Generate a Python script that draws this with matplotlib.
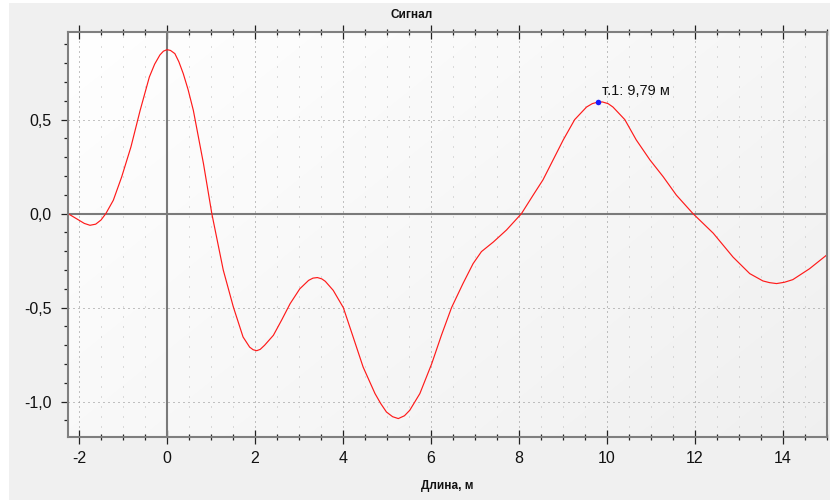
import numpy as np
import matplotlib
matplotlib.use("Agg")
import matplotlib.pyplot as plt
from matplotlib.patches import Rectangle
from matplotlib.ticker import MultipleLocator, FixedLocator

# ---- data ----
x_m = [-2.25, -2.00, -1.88, -1.75, -1.62, -1.50, -1.39, -1.22, -1.03, -0.82,
       -0.61, -0.40, -0.28, -0.16, -0.08, 0.00, 0.08, 0.18, 0.27, 0.37,
       0.48, 0.60, 0.83, 1.02, 1.28, 1.51, 1.73, 1.88, 1.96, 2.04,
       2.12, 2.22, 2.42, 2.61, 2.80, 3.02, 3.22, 3.32, 3.42, 3.52,
       3.60, 3.78, 4.01, 4.23, 4.46, 4.73, 4.86, 4.99, 5.13, 5.26,
       5.40, 5.52, 5.75, 6.02, 6.24, 6.47, 6.73, 6.96, 7.15, 7.42,
       7.72, 8.06, 8.33, 8.55, 8.78, 9.01, 9.27, 9.54, 9.67, 9.79,
       9.90, 10.03, 10.14, 10.41, 10.67, 10.98, 11.28, 11.58, 11.96, 12.42,
       12.87, 13.25, 13.55, 13.70, 13.86, 14.04, 14.23, 14.61, 14.99]
signal = [0.000, -0.035, -0.052, -0.062, -0.056, -0.034, 0.000, 0.071, 0.195, 0.354,
          0.549, 0.727, 0.795, 0.844, 0.864, 0.872, 0.868, 0.851, 0.808, 0.745,
          0.660, 0.549, 0.266, 0.000, -0.300, -0.497, -0.656, -0.710, -0.724, -0.729,
          -0.722, -0.700, -0.647, -0.565, -0.479, -0.400, -0.355, -0.343, -0.340, -0.347,
          -0.360, -0.408, -0.500, -0.654, -0.816, -0.957, -1.010, -1.055, -1.080, -1.090,
          -1.075, -1.046, -0.957, -0.798, -0.647, -0.500, -0.372, -0.266, -0.202, -0.151,
          -0.087, 0.000, 0.100, 0.180, 0.286, 0.392, 0.500, 0.567, 0.585, 0.593,
          0.594, 0.585, 0.567, 0.500, 0.392, 0.286, 0.197, 0.099, 0.000, -0.104,
          -0.231, -0.319, -0.358, -0.367, -0.372, -0.365, -0.351, -0.293, -0.222]

marker_x = 9.79
marker_y = 0.593
marker_label = "т.1: 9,79 м"

x_ticks = [-2, 0, 2, 4, 6, 8, 10, 12, 14]
x_ticklabels = ["-2", "0", "2", "4", "6", "8", "10", "12", "14"]
y_ticks = [-1.0, -0.5, 0.0, 0.5]
y_ticklabels = ["-1,0", "-0,5", "0,0", "0,5"]

title = "Сигнал"
xlabel = "Длина, м"

# ---- figure ----
W, H = 835, 500
fig = plt.figure(figsize=(W / 100, H / 100), dpi=100)
fig.patch.set_facecolor("white")
fig.patches.append(Rectangle((9 / W, 0), (830 - 9) / W, (H - 3) / H,
                             transform=fig.transFigure, facecolor="#f0f0f0",
                             edgecolor="none", zorder=-10))

L, R, T, B = 68, 826.7, 32, 437
ax = fig.add_axes([L / W, 1 - B / H, (R - L) / W, (B - T) / H])
ax.set_facecolor("white")

# soft background gradient
gx, gy = np.meshgrid(np.linspace(0, 1, 200), np.linspace(0, 1, 200))
g = 1.0 - 0.06 * (0.6 * gx + 0.4 * gy)
ax.imshow(np.dstack([g, g, g]), extent=[0, 1, 0, 1], transform=ax.transAxes,
          aspect="auto", zorder=0, interpolation="bilinear")

ax.set_xlim(-2.25, 15.0)
ax.set_ylim(-1.188, 0.966)

# grids
ax.xaxis.set_major_locator(FixedLocator(x_ticks))
ax.xaxis.set_minor_locator(MultipleLocator(0.5))
ax.yaxis.set_major_locator(FixedLocator(y_ticks))
ax.yaxis.set_minor_locator(MultipleLocator(0.1))
ax.set_xticklabels(x_ticklabels)
ax.set_yticklabels(y_ticklabels)

ax.grid(True, which="major", color="#8a8a8a", linewidth=0.72,
        linestyle=(0, (1, 4)), zorder=1)
ax.xaxis.grid(True, which="minor", color="#bdbdbd", linewidth=0.72,
              linestyle=(0, (1, 9)), zorder=1)

# zero axes lines
ax.axhline(0, color="#7a7a7a", linewidth=1.5, zorder=2)
ax.axvline(0, color="#7a7a7a", linewidth=1.5, zorder=2)

# curve
ax.plot(x_m, signal, color="#ff1a1a", linewidth=0.85, zorder=3,
        solid_joinstyle="round")
ax.plot([marker_x], [marker_y], "o", color="#1a1aff", markersize=4, zorder=4,
        markeredgewidth=0)
ax.annotate(marker_label, (marker_x, marker_y), xytext=(3, 8),
            textcoords="offset points", ha="left", va="center",
            fontsize=10.5, family="Liberation Sans", color="#111111", zorder=5)

# spines
for s in ax.spines.values():
    s.set_color("#7f7f7f")
    s.set_linewidth(1.5)
    s.set_zorder(6)

# ticks
ax.tick_params(axis="x", which="major", direction="inout", length=9.5, width=0.9,
               color="#222222", top=True, labelsize=11.5, pad=5)
ax.tick_params(axis="x", which="minor", direction="inout", length=4.5, width=0.9,
               color="#222222", top=True)
ax.tick_params(axis="y", which="major", direction="out", length=5, width=0.9,
               color="#222222", labelsize=11.5, pad=7)
ax.tick_params(axis="y", which="minor", direction="out", length=3, width=0.9,
               color="#222222")
for lab in ax.get_xticklabels() + ax.get_yticklabels():
    lab.set_family("Liberation Sans")
    lab.set_color("#111111")

fig.text(412 / W, 1 - 15.5 / H, title, ha="center", va="center",
         fontsize=8.5, fontweight="bold", family="Liberation Sans", color="#111111")
fig.text(447 / W, 1 - 486 / H, xlabel, ha="center", va="center",
         fontsize=8.5, fontweight="bold", family="Liberation Sans", color="#111111")

fig.savefig("out.png", dpi=100)
